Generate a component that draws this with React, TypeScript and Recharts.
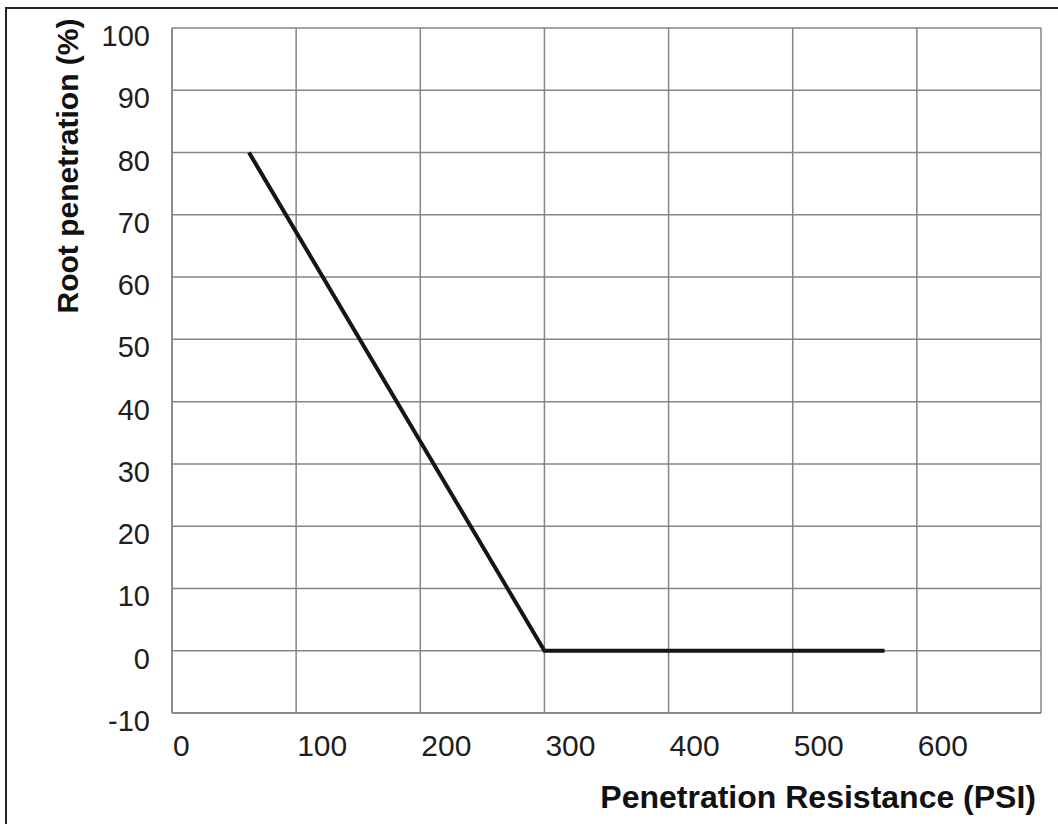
import React from "react";
import { CartesianGrid, Line, LineChart, XAxis, YAxis } from "recharts";

// values
const resistance = [62, 300, 574];
const penetration = [80, 0, 0];
const xTicks = [0, 100, 200, 300, 400, 500, 600];
const yTicks = [-10, 0, 10, 20, 30, 40, 50, 60, 70, 80, 90, 100];

const data = resistance.map((x, i) => ({ x, y: penetration[i] }));

const FONT = '"Liberation Sans", Arial, Helvetica, sans-serif';
const GRID = "#858585";

const XTick = ({ x, y, payload }: any) => (
    <text x={x + 1} y={y} dy={32} textAnchor="start" dominantBaseline="central"
        fontFamily={FONT} fontSize={30} fill="#1e1e1e">
        {payload.value}
    </text>
);

const YTick = ({ x, y, payload }: any) => (
    <text x={x} y={y} dy={8} textAnchor="end" dominantBaseline="central"
        fontFamily={FONT} fontSize={29} fill="#1e1e1e">
        {payload.value}
    </text>
);

const YTitle = () => (
    <text x={78} y={166} transform="rotate(-90 78 166)" textAnchor="middle"
        fontFamily={FONT} fontSize={30} fontWeight="bold" fill="#111">
        Root penetration (%)
    </text>
);

const XTitle = () => (
    <text x={1036} y={808} textAnchor="end"
        fontFamily={FONT} fontSize={32} fontWeight="bold" fill="#111">
        Penetration Resistance (PSI)
    </text>
);

export default function App() {
    return (
        <div style={{ position: "absolute", left: 0, top: 0, width: 1058, height: 824, background: "#fff", overflow: "hidden" }}>
            <div style={{ position: "absolute", left: 5, top: 7, width: 1100, height: 900, borderLeft: "2px solid #222", borderTop: "2px solid #222" }} />
            <LineChart
                width={1058}
                height={824}
                data={data}
                margin={{ top: 28, right: 17, bottom: 51, left: 72 }}
                style={{ position: "absolute", left: 0, top: 0 }}
            >
                <CartesianGrid stroke={GRID} strokeWidth={1.5} />
                <XAxis
                    dataKey="x"
                    type="number"
                    domain={[0, 700]}
                    ticks={xTicks}
                    height={60}
                    tickSize={0}
                    tickMargin={0}
                    tick={<XTick />}
                    axisLine={{ stroke: GRID, strokeWidth: 1.5 }}
                    tickLine={false}
                    label={<XTitle />}
                />
                <YAxis
                    type="number"
                    domain={[-10, 100]}
                    ticks={yTicks}
                    width={100}
                    tickSize={0}
                    tickMargin={22}
                    tick={<YTick />}
                    axisLine={{ stroke: GRID, strokeWidth: 1.5 }}
                    tickLine={false}
                    label={<YTitle />}
                />
                <Line
                    type="linear"
                    dataKey="y"
                    stroke="#151515"
                    strokeWidth={4}
                    dot={false}
                    isAnimationActive={false}
                />
            </LineChart>
        </div>
    );
}
